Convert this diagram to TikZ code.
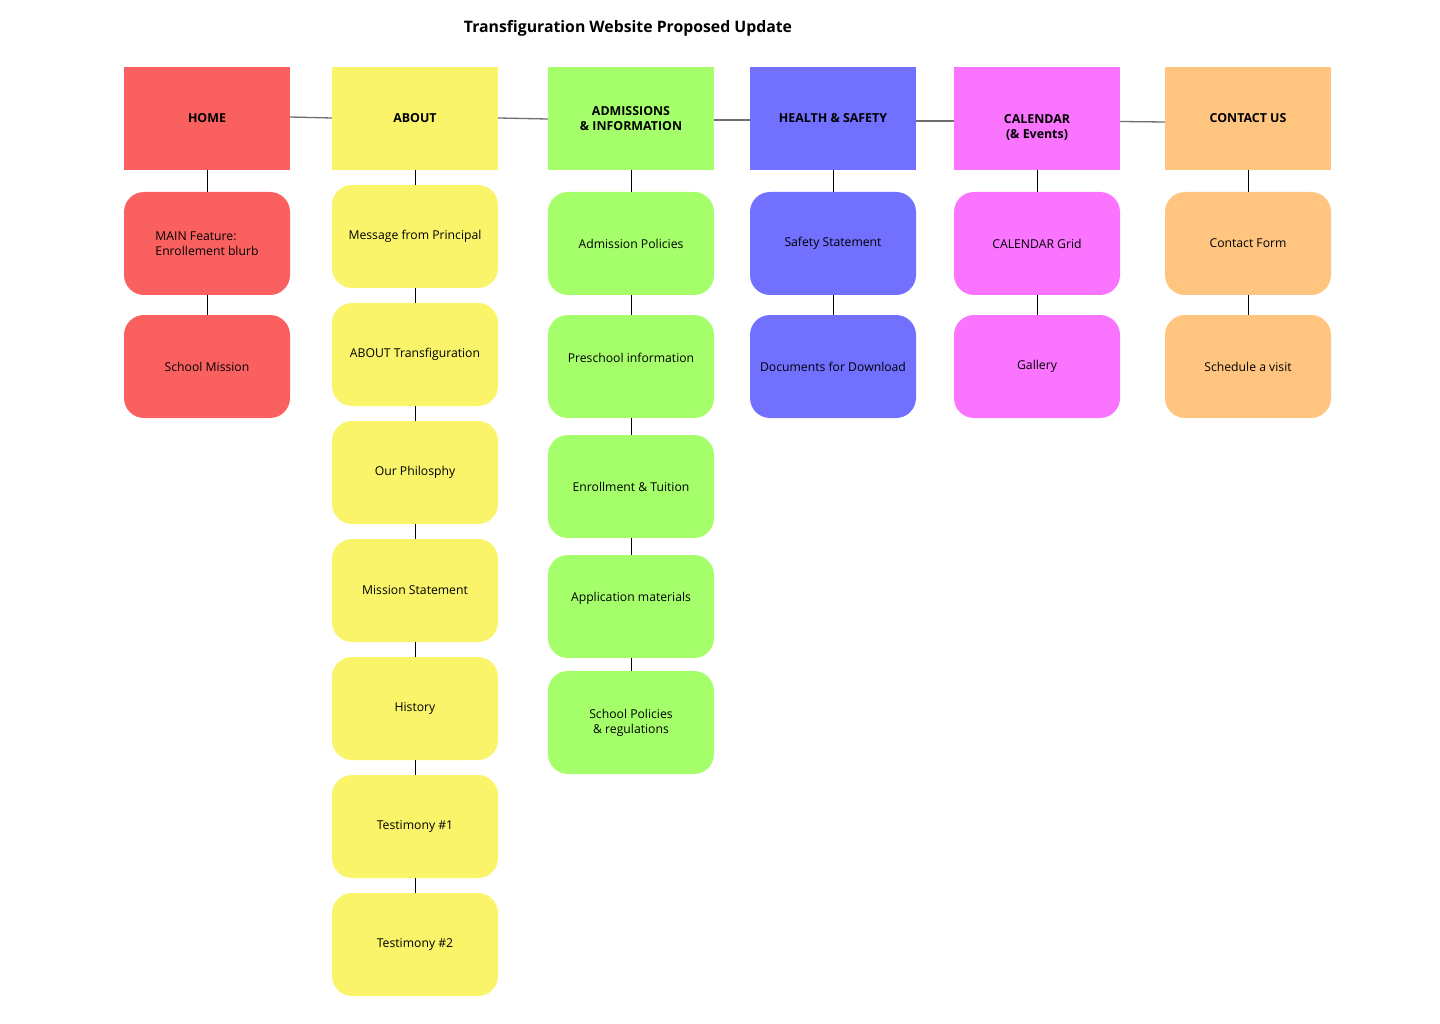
\documentclass[tikz,border=0pt]{standalone}
\usepackage{fontspec}
\setmainfont{Open Sans}
\usetikzlibrary{positioning}
\definecolor{homec}{HTML}{FA6060}
\definecolor{aboutc}{HTML}{FAF46A}
\definecolor{admc}{HTML}{A5FF6A}
\definecolor{healthc}{HTML}{7170FF}
\definecolor{calc}{HTML}{FB74FF}
\definecolor{contc}{HTML}{FFC580}
\definecolor{linkc}{HTML}{6E6E6E}
\begin{document}
\begin{tikzpicture}[x=1pt,y=-1pt,
    head/.style={minimum width=166pt,minimum height=103pt,inner sep=0pt,
        align=center,font=\fontsize{12.4}{15}\selectfont\bfseries},
    page/.style={head,rounded corners=20pt,font=\fontsize{12.2}{15}\selectfont},
    link/.style={linkc,line width=1.3pt},
    drop/.style={black,line width=0.8pt}]
    \useasboundingbox (0,0) rectangle (1440,1024);
    \node[font=\fontsize{15.8}{18}\selectfont\bfseries] (title) at (628,28) {Transfiguration Website Proposed Update};

    % top row
    \node [head,fill=homec](home) at (207,118.5){HOME};
    \node [head,fill=aboutc](about) at (415,118.5){ABOUT};
    \node [head,fill=admc](adm) at (631,118.5){ADMISSIONS\\\& INFORMATION};
    \node [head,fill=healthc](health) at (833,118.5){HEALTH \& SAFETY};
    \node [head,fill=calc](cal) at (1037,118.5){\raisebox{-9.5pt}[\height][\depth]{\begin{tabular}{@{}c@{}}CALENDAR\\(\& Events)\end{tabular}}};
    \node [head,fill=contc](cont) at (1248,118.5){CONTACT US};

    \draw[link] ([yshift=1.5pt]home.east) -- ([yshift=0.5pt]about.west);
    \draw[link] ([yshift=0.5pt]about.east) -- ([yshift=-0.5pt]adm.west);
    \draw[link] ([yshift=-1.5pt]adm.east) -- ([yshift=-1.5pt]health.west);
    \draw[link] ([yshift=-2.5pt]health.east) -- ([yshift=-2.5pt]cal.west);
    \draw[link] ([yshift=-3pt]cal.east) -- ([yshift=-3.5pt]cont.west);

    % home
    \node [page,fill=homec,align=left](home1) at (207,243.5){MAIN Feature:\\Enrollement blurb};
    \node [page,fill=homec](home2) at (207,366.5){School Mission};
    \draw[drop] (home) -- (home1) -- (home2);

    % about
    \node [page,fill=aboutc](about1) at (415,236.5){Message from Principal};
    \node [page,fill=aboutc](about2) at (415,354.5){ABOUT Transfiguration};
    \node [page,fill=aboutc](about3) at (415,472.5){Our Philosphy};
    \node [page,fill=aboutc](about4) at (415,590.5){Mission Statement};
    \node [page,fill=aboutc](about5) at (415,708.5){History};
    \node [page,fill=aboutc](about6) at (415,826.5){Testimony \#1};
    \node [page,fill=aboutc](about7) at (415,944.5){Testimony \#2};
    \draw[drop] (about) -- (about1) -- (about2) -- (about3) -- (about4) -- (about5) -- (about6) -- (about7);

    % admissions
    \node [page,fill=admc](adm1) at (631,243.5){Admission Policies};
    \node [page,fill=admc](adm2) at (631,366.5){\raisebox{8.5pt}[\height][\depth]{Preschool information}};
    \node [page,fill=admc](adm3) at (631,486.5){Enrollment \& Tuition};
    \node [page,fill=admc](adm4) at (631,606.5){\raisebox{8.5pt}[\height][\depth]{Application materials}};
    \node [page,fill=admc](adm5) at (631,722.5){School Policies\\\& regulations};
    \draw[drop] (adm) -- (adm1) -- (adm2) -- (adm3) -- (adm4) -- (adm5);

    % health
    \node [page,fill=healthc](health1) at (833,243.5){Safety Statement};
    \node [page,fill=healthc](health2) at (833,366.5){Documents for Download};
    \draw[drop] (health) -- (health1) -- (health2);

    % calendar
    \node [page,fill=calc](cal1) at (1037,243.5){CALENDAR Grid};
    \node [page,fill=calc](cal2) at (1037,366.5){Gallery};
    \draw[drop] (cal) -- (cal1) -- (cal2);

    % contact
    \node [page,fill=contc](cont1) at (1248,243.5){Contact Form};
    \node [page,fill=contc](cont2) at (1248,366.5){Schedule a visit};
    \draw[drop] (cont) -- (cont1) -- (cont2);
\end{tikzpicture}
\end{document}
